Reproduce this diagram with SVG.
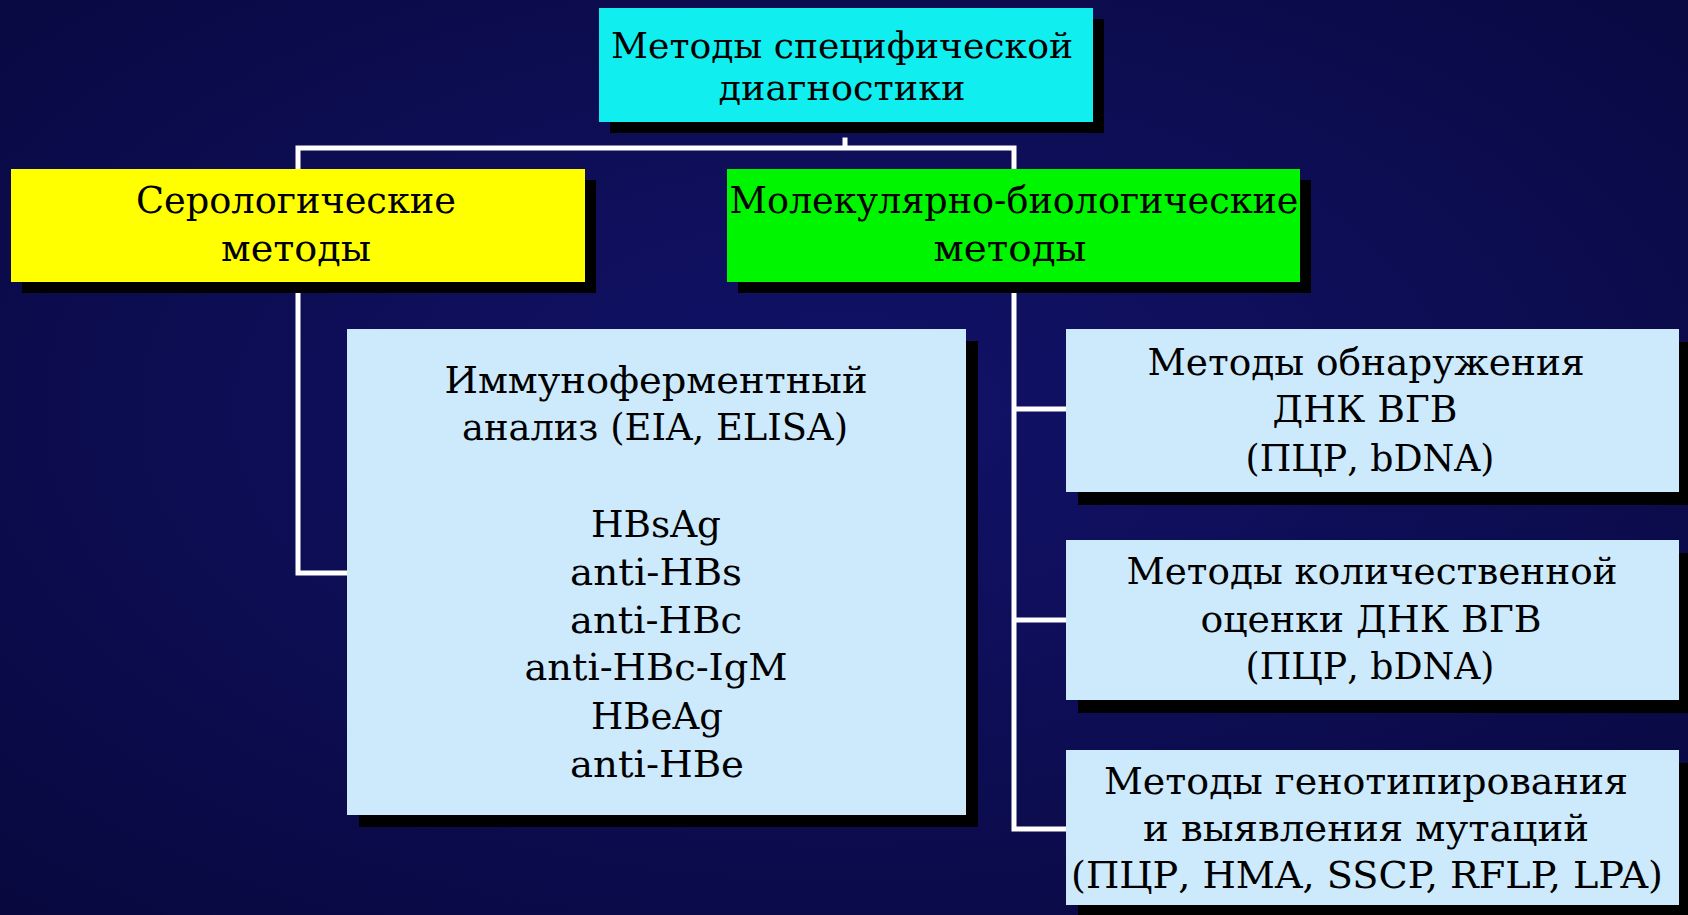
<svg xmlns="http://www.w3.org/2000/svg" width="1688" height="915" viewBox="0 0 1688 915">
<style>
.t{font-family:"DejaVu Serif","Liberation Serif",serif;fill:#000;text-anchor:middle;font-size:38px}
.t36{font-size:36px}
.sh{fill:#000}
.c{stroke:#fff;stroke-width:5;fill:none;stroke-linecap:square}
</style>
<defs>
<radialGradient id="bg" cx="50%" cy="45%" r="75%">
<stop offset="0" stop-color="#12126a"/>
<stop offset="1" stop-color="#08083e"/>
</radialGradient>
</defs>
<rect width="1688" height="915" fill="url(#bg)"/>
<g id="connectors">
<path class="c" d="M845 140 V148 M298 169 V148 H1014 V169"/>
<path class="c" d="M298 292 V573 H347"/>
<path class="c" d="M1014 292 V829 H1066 M1014 409 H1066 M1014 620 H1066"/>
</g>
<g id="node-top">
<rect class="sh" x="610" y="19" width="494" height="114"/>
<rect x="599" y="8" width="494" height="114" fill="#10eef0"/>
<text class="t t36" x="842" y="58" textLength="462" lengthAdjust="spacingAndGlyphs">Методы специфической</text>
<text class="t t36" x="842" y="100" textLength="247" lengthAdjust="spacingAndGlyphs">диагностики</text>
</g>
<g id="node-sero">
<rect class="sh" x="22" y="180" width="574" height="113"/>
<rect x="11" y="169" width="574" height="113" fill="#ffff00"/>
<text class="t" x="296" y="213" textLength="320" lengthAdjust="spacingAndGlyphs">Серологические</text>
<text class="t" x="296" y="261" textLength="150" lengthAdjust="spacingAndGlyphs">методы</text>
</g>
<g id="node-mol">
<rect class="sh" x="738" y="180" width="573" height="113"/>
<rect x="727" y="169" width="573" height="113" fill="#00f500"/>
<text class="t" x="1014" y="213" textLength="569" lengthAdjust="spacingAndGlyphs">Молекулярно-биологические</text>
<text class="t" x="1010" y="261" textLength="153" lengthAdjust="spacingAndGlyphs">методы</text>
</g>
<g id="node-eia">
<rect class="sh" x="359" y="341" width="619" height="486"/>
<rect x="347" y="329" width="619" height="486" fill="#cdeafc"/>
<text class="t" x="656" y="393" textLength="423" lengthAdjust="spacingAndGlyphs">Иммуноферментный</text>
<text class="t" x="655" y="440" textLength="386" lengthAdjust="spacingAndGlyphs">анализ (EIA, ELISA)</text>
<text class="t" x="656" y="537" textLength="130" lengthAdjust="spacingAndGlyphs">HBsAg</text>
<text class="t" x="656" y="585" textLength="172" lengthAdjust="spacingAndGlyphs">anti-HBs</text>
<text class="t" x="656" y="633" textLength="172" lengthAdjust="spacingAndGlyphs">anti-HBc</text>
<text class="t" x="656" y="680" textLength="263" lengthAdjust="spacingAndGlyphs">anti-HBc-IgM</text>
<text class="t" x="657" y="729" textLength="132" lengthAdjust="spacingAndGlyphs">HBeAg</text>
<text class="t" x="657" y="777" textLength="174" lengthAdjust="spacingAndGlyphs">anti-HBe</text>
</g>
<g id="node-detect">
<rect class="sh" x="1078" y="342" width="613" height="163"/>
<rect x="1066" y="329" width="613" height="163" fill="#cdeafc"/>
<text class="t" x="1366" y="375" textLength="437" lengthAdjust="spacingAndGlyphs">Методы обнаружения</text>
<text class="t" x="1365" y="422" textLength="185" lengthAdjust="spacingAndGlyphs">ДНК ВГВ</text>
<text class="t" x="1370" y="471" textLength="249" lengthAdjust="spacingAndGlyphs">(ПЦР, bDNA)</text>
</g>
<g id="node-quant">
<rect class="sh" x="1078" y="553" width="613" height="160"/>
<rect x="1066" y="540" width="613" height="160" fill="#cdeafc"/>
<text class="t" x="1372" y="584" textLength="491" lengthAdjust="spacingAndGlyphs">Методы количественной</text>
<text class="t" x="1371" y="632" textLength="341" lengthAdjust="spacingAndGlyphs">оценки ДНК ВГВ</text>
<text class="t" x="1370" y="679" textLength="249" lengthAdjust="spacingAndGlyphs">(ПЦР, bDNA)</text>
</g>
<g id="node-geno">
<rect class="sh" x="1078" y="763" width="613" height="155"/>
<rect x="1066" y="750" width="613" height="155" fill="#cdeafc"/>
<text class="t" x="1366" y="794" textLength="524" lengthAdjust="spacingAndGlyphs">Методы генотипирования</text>
<text class="t" x="1366" y="841" textLength="446" lengthAdjust="spacingAndGlyphs">и выявления мутаций</text>
<text class="t" x="1367" y="888" textLength="592" lengthAdjust="spacingAndGlyphs">(ПЦР, HMA, SSCP, RFLP, LPA)</text>
</g>
</svg>
